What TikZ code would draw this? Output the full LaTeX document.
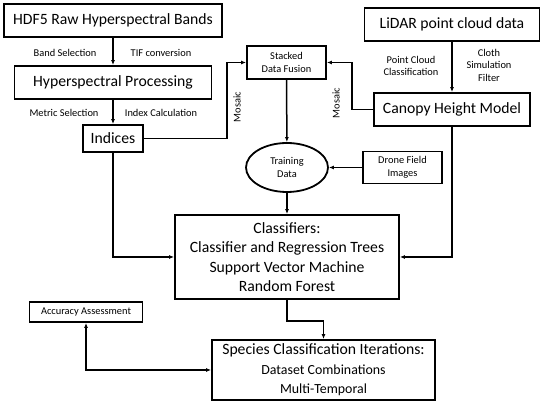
\documentclass[tikz,border=0pt]{standalone}
\usepackage{fontspec}
\setmainfont{Carlito}
\usetikzlibrary{arrows.meta,shapes.geometric}
\newcommand{\boxfont}{\fontsize{15.7}{19.5}\selectfont}
\newcommand{\subfont}{\fontsize{13.9}{17.5}\selectfont}
\newcommand{\lblfont}{\fontsize{10.4}{12.5}\selectfont}

\begin{document}
\begin{tikzpicture}[x=1pt,y=-1pt,
  box/.style={draw,line width=1.8pt,inner sep=0pt,align=center},
  lbl/.style={inner sep=0pt,align=center,font=\lblfont},
  conn/.style={line width=1.5pt,-{Latex[length=5pt,width=4pt]}}]
\useasboundingbox (0,0) rectangle (542,403);

\node[box,minimum width=218pt,minimum height=33pt,font=\boxfont] (hdf) at(113,20.5){HDF5 Raw Hyperspectral Bands};
\node[box,minimum width=197pt,minimum height=33pt,font=\boxfont] (hyp) at(113,82.5){Hyperspectral Processing};
\node[box,minimum width=60pt,minimum height=27pt,font=\boxfont] (ind) at(113,138.5){Indices};
\node[box,minimum width=79pt,minimum height=33pt,font=\lblfont] (stack) at(286.5,62.5){Stacked\\Data Fusion};
\node[box,ellipse,minimum width=82pt,minimum height=49pt,font=\lblfont] (train) at(287,167.5){Training\\Data};
\node[box,minimum width=175pt,minimum height=33pt,font=\boxfont] (lidar) at(452,24.5){LiDAR point cloud data};
\node[box,minimum width=156pt,minimum height=33pt,font=\boxfont] (chm) at(452,109.5){Canopy Height Model};
\node[box,minimum width=79pt,minimum height=32pt,font=\lblfont] (drone) at(402.5,167.5){Drone Field\\Images};
\node[box,minimum width=224pt,minimum height=84pt,font=\boxfont] (cls) at(287,257){Classifiers:\\Classifier and Regression Trees\\Support Vector Machine\\Random Forest};
\node[box,minimum width=113pt,minimum height=20pt,font=\lblfont] (acc) at(86,312){Accuracy Assessment};
\node[box,minimum width=223pt,minimum height=60pt,font=\boxfont] (spec) at(323.5,370){Species Classification Iterations:\\\subfont Dataset Combinations\\\subfont Multi-Temporal};

\node[lbl] (l1) at(65,53){Band Selection};
\node[lbl] (l2) at(161,53){TIF conversion};
\node[lbl] (l3) at(64,113){Metric Selection};
\node[lbl] (l4) at(161,113){Index Calculation};
\node[lbl,rotate=90] (l5) at(237,107){Mosaic};
\node[lbl,rotate=90] (l6) at(336,103){Mosaic};
\node[lbl] (l7) at(411,66){Point Cloud\\Classification};
\node[lbl] (l8) at(489,65){Cloth\\Simulation\\Filter};

\coordinate (m1) at(227,0);
\coordinate (m2) at(352,0);

\draw[conn] (hdf) -- (hyp);
\draw[conn] (hyp) -- (ind);
\draw[conn] (ind.east) -| (m1 |- stack.west) -- (stack.west);
\draw[conn] (chm.west) -| (m2 |- stack.east) -- (stack.east);
\draw[conn] (lidar) -- (chm);
\draw[conn] (stack) -- (train);
\draw[conn] (drone) -- (train);
\draw[conn] (train) -- (cls);
\draw[conn] (ind.south) |- (cls.west);
\draw[conn] (chm.south) |- (cls.east);
\draw[conn] (cls.south) -- ++(0,21) -| (spec.north);
\draw[conn,{Latex[length=5pt,width=4pt]}-{Latex[length=5pt,width=4pt]}] (acc.south) |- (spec.west);

\end{tikzpicture}
\end{document}
